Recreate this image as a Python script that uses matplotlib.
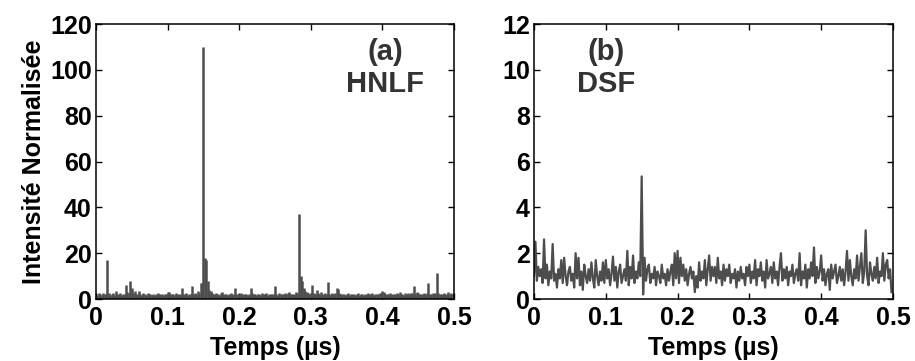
"""
Traces temporelles de l'intensité normalisée : (a) HNLF, (b) DSF.
"""
import numpy as np
import matplotlib
matplotlib.use("Agg")
import matplotlib.pyplot as plt  # noqa: E402

plt.rcParams["font.family"] = ["Liberation Sans", "DejaVu Sans"]
plt.rcParams["font.weight"] = "bold"

DT = 0.002  # pas d'échantillonnage (µs)

# (a) HNLF - intensité normalisée, 250 échantillons
hnlf = [
    2.4, 1.9, 2.8, 2.1, 1.8, 2.6, 2.0, 2.3, 17, 2.5, 1.9, 2.1, 2.7, 1.8, 3.4, 2.3, 2.0, 2.6, 1.9, 2.4, 2.1, 6.0, 2.9, 2.6, 8.0,
    5.0, 2.8, 3.5, 2.3, 2.0, 3.5, 2.4, 1.9, 2.6, 2.1, 1.8, 2.5, 2.0, 2.3, 1.9, 2.4, 1.8, 2.1, 2.6, 1.9, 2.0, 2.3, 1.8, 2.4, 2.1,
    3.2, 3.2, 2.4, 2.0, 2.3, 1.9, 2.5, 2.1, 1.8, 2.4, 5.0, 2.0, 2.3, 2.6, 1.9, 2.1, 2.4, 5.5, 2.3, 2.7, 2.0, 3.4, 2.8, 7.0, 7.0,
    110, 18, 17, 8.0, 4.0, 3.4, 2.8, 2.4, 2.0, 2.5, 2.1, 1.9, 2.6, 3.2, 2.3, 2.0, 2.4, 1.9, 2.1, 2.5, 1.8, 2.3, 5.0, 2.4, 2.0,
    2.1, 2.6, 1.9, 2.3, 2.0, 2.4, 1.8, 2.1, 5.0, 2.5, 2.0, 2.3, 1.9, 2.4, 2.1, 1.8, 2.6, 2.0, 2.3, 2.7, 1.9, 2.1, 2.4, 2.0, 2.3,
    5.5, 2.1, 1.9, 2.5, 2.3, 2.0, 2.4, 2.8, 2.1, 2.6, 3.2, 2.3, 2.0, 2.4, 1.9, 2.9, 2.5, 37, 10, 8.0, 5.0, 3.4, 3.0, 2.6, 2.3,
    2.5, 6.0, 2.7, 2.4, 4.0, 2.6, 2.1, 2.9, 2.3, 2.0, 2.5, 2.1, 7.5, 2.4, 2.3, 2.6, 2.0, 2.8, 5.0, 4.5, 2.6, 2.3, 2.0, 2.4, 1.9,
    2.1, 2.5, 1.8, 2.3, 2.0, 2.4, 1.9, 2.1, 2.6, 1.8, 2.0, 2.3, 1.9, 2.4, 2.1, 2.5, 2.0, 2.3, 2.7, 1.9, 2.1, 2.4, 2.0, 2.6, 2.8,
    3.5, 3.0, 2.4, 2.0, 2.3, 2.6, 1.9, 2.1, 2.4, 2.0, 2.5, 2.3, 3.2, 2.1, 2.4, 1.9, 2.6, 2.3, 2.8, 2.0, 2.5, 2.7, 5.5, 2.4, 3.2,
    2.6, 2.1, 2.4, 2.0, 2.7, 2.3, 2.5, 7.0, 2.4, 2.1, 2.6, 2.3, 2.8, 11.5, 2.5, 2.1, 2.4, 2.0, 2.6, 2.3, 2.4, 3.0, 2.1, 2.5, 2.3,
]

# (b) DSF - intensité normalisée, 250 échantillons
dsf = [
    1.0, 2.5, 0.8, 1.4, 1.0, 1.3, 0.7, 2.6, 0.9, 1.5, 0.6, 1.2, 0.9, 2.4, 0.8, 1.1, 0.5, 1.3, 0.9, 1.7, 0.7, 1.8, 1.0, 0.6, 1.2,
    1.4, 0.8, 1.1, 0.5, 2.0, 0.9, 1.8, 0.6, 1.2, 0.4, 1.5, 1.0, 0.7, 1.3, 0.8, 1.6, 0.9, 0.5, 1.7, 1.0, 0.6, 1.2, 0.8, 1.6, 0.7,
    1.7, 0.9, 1.3, 0.6, 1.1, 1.85, 0.8, 1.4, 0.5, 1.2, 1.5, 0.7, 1.0, 1.3, 0.8, 2.1, 0.6, 1.4, 0.9, 1.9, 0.7, 1.2, 0.9, 1.6, 1.0,
    5.35, 0.2, 1.8, 0.8, 1.3, 1.5, 0.7, 1.1, 0.9, 1.4, 0.6, 1.2, 1.0, 0.7, 1.5, 0.9, 1.1, 0.6, 1.3, 0.8, 1.2, 1.5, 0.6, 2.0, 0.9,
    2.1, 0.7, 1.8, 1.0, 1.5, 0.8, 1.3, 0.6, 1.1, 1.4, 0.9, 1.2, 0.3, 1.0, 0.5, 1.6, 0.8, 1.2, 0.9, 1.7, 0.6, 1.3, 1.9, 0.8, 1.4,
    1.0, 1.4, 0.7, 1.8, 0.9, 1.2, 0.6, 1.5, 0.8, 1.3, 1.0, 1.5, 0.7, 1.1, 0.9, 1.3, 0.5, 1.2, 0.8, 1.4, 0.9, 1.1, 0.6, 1.4, 1.0,
    1.5, 0.7, 1.2, 0.9, 1.7, 0.6, 1.3, 1.0, 1.6, 0.8, 1.2, 0.5, 1.7, 0.9, 1.1, 1.4, 0.7, 1.6, 0.9, 1.2, 0.6, 1.4, 2.0, 0.8, 1.3,
    0.9, 1.4, 0.6, 1.2, 1.0, 1.5, 0.7, 1.1, 1.3, 0.8, 2.0, 0.6, 1.2, 0.9, 1.5, 0.5, 1.3, 0.9, 1.6, 1.0, 2.25, 0.7, 1.4, 0.9, 1.2,
    1.9, 0.8, 1.3, 0.6, 1.1, 1.3, 0.4, 1.5, 0.9, 1.2, 1.5, 0.7, 1.0, 1.4, 0.8, 1.3, 0.6, 1.2, 2.1, 0.8, 1.7, 1.0, 0.6, 1.3, 0.9,
    1.9, 0.8, 1.4, 2.0, 0.7, 1.2, 3.0, 1.0, 0.6, 1.6, 1.1, 0.8, 1.4, 0.9, 1.8, 0.7, 1.2, 1.0, 2.0, 0.8, 1.5, 1.7, 0.9, 1.3, 0.3,
]

x_ticks = [0, 0.1, 0.2, 0.3, 0.4, 0.5]
x_ticklabels = ["0", "0.1", "0.2", "0.3", "0.4", "0.5"]
ya_ticks = [0, 20, 40, 60, 80, 100, 120]
yb_ticks = [0, 2, 4, 6, 8, 10, 12]

TRACE = "#4d4d4d"
TXT = "#333333"

t_a = np.arange(len(hnlf)) * DT
t_b = np.arange(len(dsf)) * DT

fig = plt.figure(figsize=(9.15, 3.61), dpi=100)
ax_a = fig.add_axes([0.1049, 0.1717, 0.3913, 0.7618])
ax_b = fig.add_axes([0.5836, 0.1717, 0.3923, 0.7618])

ax_a.vlines(t_a, 0, hnlf, colors=TRACE, linewidth=1.8)
ax_b.plot(t_b, dsf, color=TRACE, linewidth=1.6)

ax_a.set_ylim(0, 120)
ax_a.set_yticks(ya_ticks)
ax_b.set_ylim(0, 12)
ax_b.set_yticks(yb_ticks)

for ax in (ax_a, ax_b):
    ax.set_xlim(0, 0.5)
    ax.set_xticks(x_ticks)
    ax.set_xticklabels(x_ticklabels)
    ax.tick_params(direction="in", top=True, right=True, length=4, width=1.0,
                   labelsize=18)
    ax.tick_params(axis="x", pad=5)
    ax.tick_params(axis="y", pad=3)
    for sp in ax.spines.values():
        sp.set_linewidth(1.1)
    ax.set_xlabel("Temps (µs)", fontsize=18, fontweight="bold", labelpad=4)

ax_a.set_ylabel("Intensité Normalisée", fontsize=18, fontweight="bold", labelpad=3)

ax_a.text(0.404, 108, "(a)", ha="center", va="center", fontsize=21,
          fontweight="bold", color=TXT)
ax_a.text(0.404, 94, "HNLF", ha="center", va="center", fontsize=21,
          fontweight="bold", color=TXT)
ax_b.text(0.101, 10.8, "(b)", ha="center", va="center", fontsize=21,
          fontweight="bold", color=TXT)
ax_b.text(0.101, 9.4, "DSF", ha="center", va="center", fontsize=21,
          fontweight="bold", color=TXT)

fig.savefig("out.png", dpi=100)
